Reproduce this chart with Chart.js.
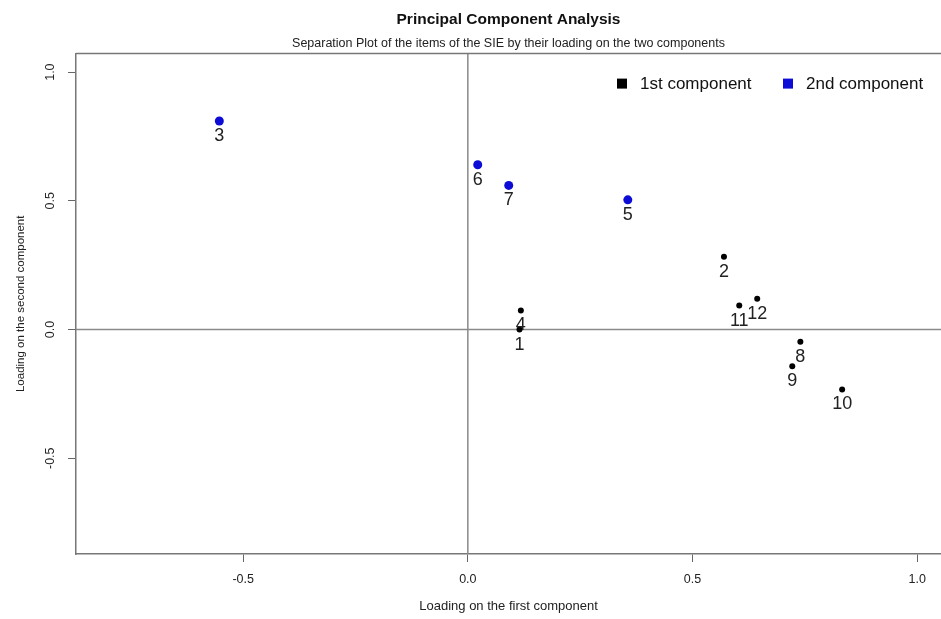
<!DOCTYPE html>
<html lang="en">
<head>
    <meta charset="UTF-8">
    <title>Principal Component Analysis</title>
    <script src="https://cdn.jsdelivr.net/npm/chart.js"></script>
    <style>
        body {
            margin: 0;
            background: #fff;
            font-family: 'Liberation Sans', Arial, sans-serif;
        }
        #wrap {
            width: 941px;
            height: 619px;
        }
    </style>
</head>
<body>
    <div id="wrap">
        <canvas id="pcaChart" width="941" height="619"></canvas>
    </div>

    <script>
        // item numbers and loadings
        const items1 = ['1', '2', '4', '8', '9', '10', '11', '12'];
        const comp1X = [0.115, 0.570, 0.118, 0.740, 0.722, 0.833, 0.604, 0.644];
        const comp1Y = [0.000, 0.283, 0.074, -0.047, -0.143, -0.233, 0.093, 0.120];

        const items2 = ['3', '5', '6', '7'];
        const comp2X = [-0.553, 0.356, 0.022, 0.091];
        const comp2Y = [0.810, 0.504, 0.640, 0.560];

        const seriesNames = ['1st component', '2nd component'];
        const xTicks = [-0.5, 0, 0.5, 1.0];
        const yTicks = [-0.5, 0, 0.5, 1.0];

        const FONT = '"Liberation Sans", Arial, sans-serif';
        const toPoints = (xs, ys) => xs.map((x, i) => ({ x: x, y: ys[i] }));

        // box top + zero lines like the R plot
        const framePlugin = {
            id: 'frame',
            beforeDatasetsDraw(chart) {
                const { ctx, chartArea, scales } = chart;
                const x0 = scales.x.getPixelForValue(0);
                const y0 = scales.y.getPixelForValue(0);
                ctx.save();
                ctx.strokeStyle = '#8a8a8a';
                ctx.lineWidth = 1.5;
                ctx.beginPath();
                ctx.moveTo(x0, chartArea.top);
                ctx.lineTo(x0, chartArea.bottom);
                ctx.moveTo(chartArea.left, y0);
                ctx.lineTo(chartArea.right, y0);
                ctx.stroke();
                ctx.strokeStyle = '#777';
                ctx.beginPath();
                ctx.moveTo(chartArea.left, chartArea.top);
                ctx.lineTo(chartArea.right, chartArea.top);
                ctx.stroke();
                ctx.restore();
            }
        };

        // item numbers under each point
        const itemLabels = [items1, items2];
        const labelPlugin = {
            id: 'itemLabels',
            afterDatasetsDraw(chart) {
                const ctx = chart.ctx;
                ctx.save();
                ctx.font = '18px ' + FONT;
                ctx.fillStyle = '#222';
                ctx.textAlign = 'center';
                ctx.textBaseline = 'middle';
                chart.data.datasets.forEach((ds, d) => {
                    chart.getDatasetMeta(d).data.forEach((pt, i) => {
                        ctx.fillText(itemLabels[d][i], pt.x, pt.y + 15);
                    });
                });
                ctx.restore();
            }
        };

        // legend in the top right corner of the plot, one row
        const legendPlugin = {
            id: 'insideLegend',
            afterDraw(chart) {
                const { ctx, chartArea } = chart;
                const y = chartArea.top + 30;
                const starts = [617, 783];
                ctx.save();
                ctx.font = '17px ' + FONT;
                ctx.textBaseline = 'middle';
                ctx.textAlign = 'left';
                chart.data.datasets.forEach((ds, d) => {
                    ctx.fillStyle = ds.backgroundColor;
                    ctx.fillRect(starts[d], y - 5, 10, 10);
                    ctx.fillStyle = '#111';
                    ctx.fillText(ds.label, starts[d] + 23, y + 1);
                });
                ctx.restore();
            }
        };

        const ctx = document.getElementById('pcaChart').getContext('2d');
        new Chart(ctx, {
            type: 'scatter',
            data: {
                datasets: [{
                    label: seriesNames[0],
                    data: toPoints(comp1X, comp1Y),
                    backgroundColor: '#000',
                    borderColor: '#000',
                    borderWidth: 0,
                    pointRadius: 3
                }, {
                    label: seriesNames[1],
                    data: toPoints(comp2X, comp2Y),
                    backgroundColor: '#0c0cd6',
                    borderColor: '#0c0cd6',
                    borderWidth: 0,
                    pointRadius: 4.5
                }]
            },
            options: {
                responsive: false,
                animation: false,
                devicePixelRatio: 1,
                layout: { padding: 0, autoPadding: false },
                plugins: {
                    title: {
                        display: true,
                        text: 'Principal Component Analysis',
                        fullSize: false,
                        color: '#111',
                        font: { family: 'Liberation Sans', size: 15.5, weight: 'bold' },
                        padding: { top: 10, bottom: 3 }
                    },
                    subtitle: {
                        display: true,
                        text: 'Separation Plot of the items of the SIE by their loading on the two components',
                        fullSize: false,
                        color: '#222',
                        font: { family: 'Liberation Sans', size: 12.5 },
                        padding: { top: 4.5, bottom: 2.5 }
                    },
                    legend: { display: false },
                    tooltip: { enabled: false }
                },
                scales: {
                    x: {
                        type: 'linear',
                        min: -0.872,
                        max: 1.053,
                        afterBuildTicks: s => { s.ticks = xTicks.map(v => ({ value: v })); },
                        afterFit: s => { s.height = 65; s.paddingLeft = 0; s.paddingRight = 0; },
                        grid: { drawOnChartArea: false, color: '#666', tickLength: 8 },
                        border: { color: '#777', width: 1.5 },
                        ticks: {
                            padding: 10.5,
                            color: '#222',
                            font: { family: 'Liberation Sans', size: 12.5 },
                            callback: v => v.toFixed(1)
                        },
                        title: {
                            display: true,
                            text: 'Loading on the first component',
                            color: '#222',
                            font: { family: 'Liberation Sans', size: 13 },
                            padding: { top: 0, bottom: 4.5 }
                        }
                    },
                    y: {
                        type: 'linear',
                        min: -0.872,
                        max: 1.072,
                        afterBuildTicks: s => { s.ticks = yTicks.map(v => ({ value: v })); },
                        afterFit: s => { s.width = 76; },
                        grid: { drawOnChartArea: false, color: '#666', tickLength: 8 },
                        border: { color: '#777', width: 1.5 },
                        ticks: {
                            padding: 6.5,
                            minRotation: 90,
                            maxRotation: 90,
                            crossAlign: 'center',
                            color: '#222',
                            font: { family: 'Liberation Sans', size: 12.5 },
                            callback: v => v.toFixed(1)
                        },
                        title: {
                            display: true,
                            text: 'Loading on the second component',
                            color: '#222',
                            font: { family: 'Liberation Sans', size: 11.5 },
                            padding: { top: 14, bottom: 0 }
                        }
                    }
                }
            },
            plugins: [framePlugin, labelPlugin, legendPlugin]
        });
    </script>
</body>
</html>
